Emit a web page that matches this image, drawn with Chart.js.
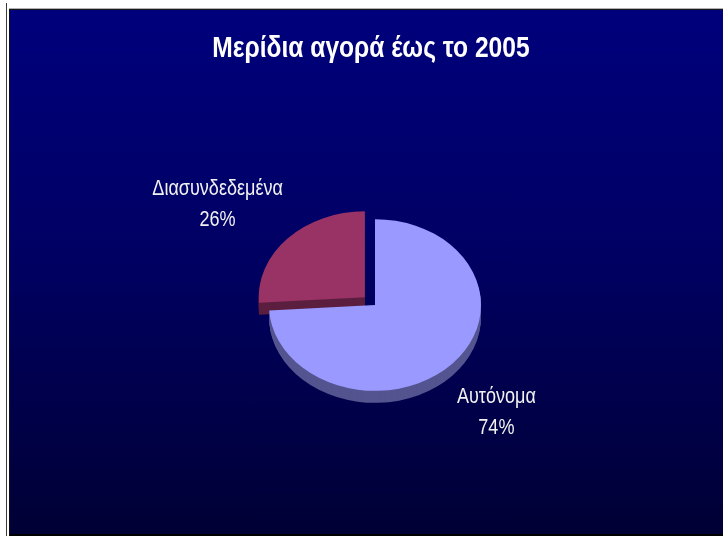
<!DOCTYPE html>
<html lang="el">
<head>
<meta charset="utf-8">
<title>Μερίδια αγορά έως το 2005</title>
<script src="https://cdn.jsdelivr.net/npm/chart.js@4"></script>
<style>
    html, body { margin: 0; padding: 0; background: #fff; }
    body { width: 723px; height: 536px; position: relative; overflow: hidden; }
    #rule { position: absolute; left: 6px; top: 3px; bottom: 0; width: 1px; background: #3a3a3a; }
    #panel {
        position: absolute; left: 9px; top: 9px; right: 0; bottom: 0;
        box-sizing: border-box;
        border-left: 1px solid #111; border-top: 1px solid #1a1a1a; border-bottom: 2px solid #000;
        box-shadow: 0 -1px 0 #b0b0b0;
        background: linear-gradient(to bottom, #00007c 0%, #000064 45%, #000035 100%);
    }
    #marketChart { position: absolute; left: 0; top: 0; }
</style>
</head>
<body>
<div id="rule"></div>
<div id="panel"></div>
<canvas id="marketChart" width="723" height="536"></canvas>

<script>
// Market share data
const chartTitle = 'Μερίδια αγορά έως το 2005';
const categories = ['Αυτόνομα', 'Διασυνδεδεμένα'];
const shares = [74, 26];
const sliceColors = ['#9999ff', '#993366'];
const sideColors = ['#545490', '#5c1f3f'];
const explode = [0, 56];

// no narrow face installed, so squeeze Liberation Sans horizontally
const baseFont = "'Liberation Sans', Arial, sans-serif";
const narrow = 0.82;

// Fake 3D look: squash the pie vertically and stack darker copies under it
const tilt = 0.81;
const depth = 12;
const labelGap = 12;
const lineStep = 31;

function narrowText(ctx, text, x, y) {
    ctx.save();
    ctx.translate(x, y);
    ctx.scale(narrow, 1);
    ctx.fillText(text, 0, 0);
    ctx.restore();
}

const pie3d = {
    id: 'pie3d',
    beforeDatasetsDraw(chart) {
        const ctx = chart.ctx;
        const arcs = chart.getDatasetMeta(0).data;
        const cy = arcs[0].y;
        ctx.save();
        ctx.translate(0, cy);
        ctx.scale(1, tilt);
        ctx.translate(0, -cy);
        for (let d = depth; d > 0; d--) {
            arcs.forEach((arc, i) => {
                const face = arc.options;
                arc.options = Object.assign({}, face, { backgroundColor: sideColors[i], borderWidth: 0 });
                ctx.save();
                ctx.translate(0, d / tilt);
                arc.draw(ctx);
                ctx.restore();
                arc.options = face;
            });
        }
    },
    afterDatasetsDraw(chart) {
        const ctx = chart.ctx;
        ctx.restore();

        ctx.save();
        ctx.fillStyle = '#ffffff';
        ctx.textAlign = 'center';
        ctx.textBaseline = 'alphabetic';
        ctx.font = 'bold 30px ' + baseFont;
        narrowText(ctx, chartTitle, 371, 57);

        // slice labels: name and percentage outside each slice
        const arcs = chart.getDatasetMeta(0).data;
        const cy = arcs[0].y;
        ctx.font = '22px ' + baseFont;
        ctx.fillStyle = '#f2f2f2';
        arcs.forEach((arc, i) => {
            const mid = (arc.startAngle + arc.endAngle) / 2;
            const shift = (arc.options.offset || 0) / 4;
            const cos = Math.cos(mid), sin = Math.sin(mid);
            const lines = [categories[i], shares[i] + '%'];
            const w = narrow * Math.max(...lines.map(t => ctx.measureText(t).width));
            const ex = arc.x + cos * (shift + arc.outerRadius * 1.06);
            const ey = cy + sin * (shift + arc.outerRadius) * tilt;
            const x = ex + Math.sign(cos) * w / 2;
            const first = sin > 0
                ? ey + depth + labelGap + 15
                : ey - labelGap - lineStep * (lines.length - 1);
            lines.forEach((t, j) => narrowText(ctx, t, x, first + j * lineStep));
        });
        ctx.restore();
    }
};

function createChart() {
    const ctx = document.getElementById('marketChart').getContext('2d');
    new Chart(ctx, {
        type: 'pie',
        data: {
            labels: categories,
            datasets: [{
                data: shares,
                backgroundColor: sliceColors,
                borderWidth: 0,
                offset: explode
            }]
        },
        options: {
            responsive: false,
            animation: false,
            events: [],
            radius: 106,
            layout: { padding: { left: 40, right: 13, top: 94, bottom: 20 } },
            plugins: {
                legend: { display: false },
                tooltip: { enabled: false },
                title: { display: false }
            }
        },
        plugins: [pie3d]
    });
}

document.addEventListener('DOMContentLoaded', createChart);
</script>
</body>
</html>
